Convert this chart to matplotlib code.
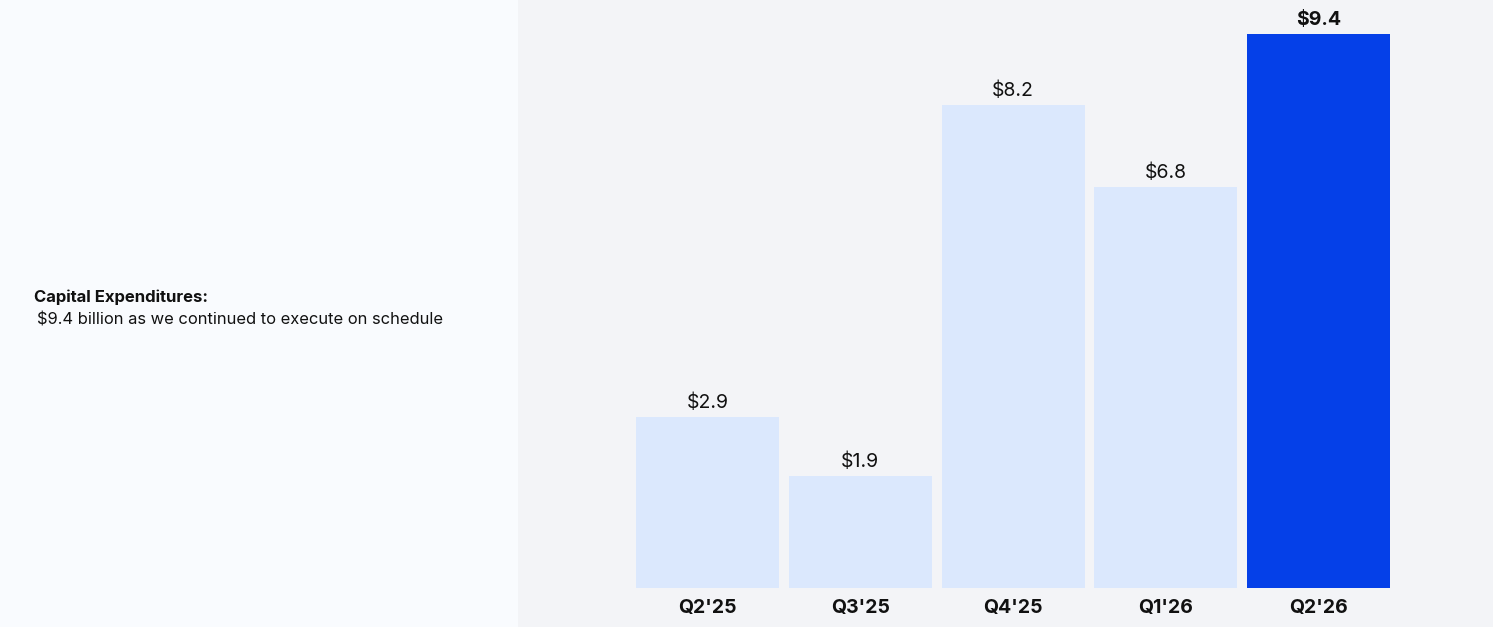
import matplotlib.pyplot as plt
from matplotlib.patches import Rectangle

# Capex by quarter, $ billions
quarters = ["Q2'25", "Q3'25", "Q4'25", "Q1'26", "Q2'26"]
capex = [2.9, 1.9, 8.2, 6.8, 9.4]
labels = ["$2.9", "$1.9", "$8.2", "$6.8", "$9.4"]

plt.rcParams['font.family'] = ['Inter', 'DejaVu Sans']

fig = plt.figure(figsize=(14.93, 6.27), dpi=100)
fig.patch.set_facecolor('#F9FBFE')

# right panel background
fig.patches.append(Rectangle((518 / 1493, 0), 1 - 518 / 1493, 1, transform=fig.transFigure,
                             facecolor='#F3F4F7', edgecolor='none', zorder=-5))

ax = fig.add_axes([518 / 1493, 39 / 627, 1 - 518 / 1493, 588 / 627])
ax.set_facecolor('none')
ax.set_zorder(2)

colors = ['#DBE8FD'] * 4 + ['#0540E8']
xs = list(range(len(quarters)))
bars = ax.bar(xs, capex, width=0.936, color=colors)

for i, (b, lab) in enumerate(zip(bars, labels)):
    ax.annotate(lab, (b.get_x() + b.get_width() / 2, b.get_height()),
                xytext=(0, 3.5), textcoords='offset points', ha='center', va='bottom',
                fontsize=14, fontweight='bold' if i == len(bars) - 1 else 'normal',
                color='#111111', annotation_clip=False)

ax.set_xlim(-1.2406, 5.142)
ax.set_ylim(0, 9.976)
ax.set_xticks(xs)
ax.set_xticklabels(quarters, fontsize=14, fontweight='bold', color='#111111')
ax.tick_params(axis='x', length=0, pad=8)
ax.set_yticks([])
for s in ax.spines.values():
    s.set_visible(False)

fig.text(34 / 1493, 1 - 297 / 627, 'Capital Expenditures:', fontsize=12, fontweight='bold',
         color='#111111', va='center', ha='left')
fig.text(37 / 1493, 1 - 320 / 627, '$9.4 billion as we continued to execute on schedule',
         fontsize=11.9, color='#111111', va='center', ha='left')

fig.savefig('out.png', dpi=100, facecolor=fig.get_facecolor())
